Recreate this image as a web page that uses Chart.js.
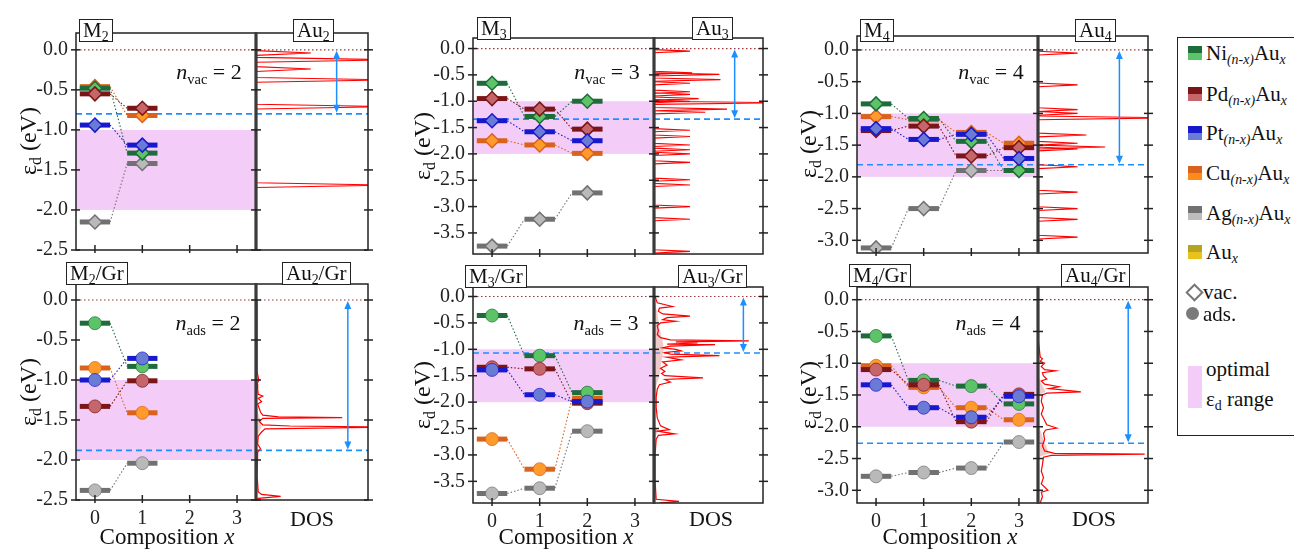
<!DOCTYPE html>
<html><head><meta charset="utf-8">
<script src="https://cdn.jsdelivr.net/npm/chart.js@4.4.1/dist/chart.umd.min.js"></script>
<style>
html,body{margin:0;padding:0;background:#fff;}
body{width:1294px;height:552px;position:relative;overflow:hidden;font-family:'Liberation Serif','Times New Roman',serif;color:#111;}
canvas{position:absolute;}
.t{position:absolute;white-space:nowrap;transform:translate(-50%,-50%);line-height:1;}
.rot{transform:translate(-50%,-50%) rotate(-90deg);}
.box{position:absolute;background:#fff;border:1.3px solid #222;font-size:21px;line-height:21px;height:21px;padding:0 3px;white-space:nowrap;z-index:5;}
.lt{position:absolute;white-space:nowrap;transform:translateY(-50%);font-size:21px;line-height:1;}
sub{font-size:0.66em;vertical-align:-0.32em;line-height:0;}
.sw{position:absolute;width:14px;height:14px;}
.sw div{height:7px;}
</style></head><body>
<script>
// ================= DATA =================
const compositionTicks = [0, 1, 2, 3];
const yTicks25 = [0.0, -0.5, -1.0, -1.5, -2.0, -2.5];
const yTicks30 = [0.0, -0.5, -1.0, -1.5, -2.0, -2.5, -3.0];
const yTicks35 = [0.0, -0.5, -1.0, -1.5, -2.0, -2.5, -3.0, -3.5];
const optimalRange = [-2.0, -1.0];
const fermiLevel = 0.0;

// d-band centre of pure Au clusters (blue dashed line): Au2, Au3, Au4, Au2/Gr, Au3/Gr, Au4/Gr
const auDBand = [-0.80, -1.34, -1.81, -1.88, -1.07, -2.26];

// M2 (vacuum)  values at x = 0,1
const m2Ni = [-0.48, -1.29];
const m2Pd = [-0.55, -0.73];
const m2Pt = [-0.94, -1.19];
const m2Cu = [-0.46, -0.82];
const m2Ag = [-2.15, -1.42];
// M3 (vacuum)  x = 0,1,2
const m3Ni = [-0.66, -1.29, -1.00];
const m3Pd = [-0.95, -1.15, -1.53];
const m3Pt = [-1.37, -1.58, -1.75];
const m3Cu = [-1.75, -1.83, -1.99];
const m3Ag = [-3.75, -3.24, -2.74];
// M4 (vacuum)  x = 0,1,2,3
const m4Ni = [-0.85, -1.08, -1.44, -1.90];
const m4Pd = [-1.27, -1.20, -1.67, -1.54];
const m4Pt = [-1.24, -1.41, -1.33, -1.71];
const m4Cu = [-1.05, -1.10, -1.30, -1.47];
const m4Ag = [-3.12, -2.50, -1.90, -1.90];
// M2/Gr (adsorbed)
const m2GrNi = [-0.29, -0.83];
const m2GrPd = [-1.33, -1.01];
const m2GrPt = [-1.00, -0.73];
const m2GrCu = [-0.85, -1.41];
const m2GrAg = [-2.38, -2.04];
// M3/Gr
const m3GrNi = [-0.36, -1.12, -1.82];
const m3GrPd = [-1.34, -1.37, -2.02];
const m3GrPt = [-1.39, -1.86, -1.99];
const m3GrCu = [-2.70, -3.27, -1.93];
const m3GrAg = [-3.73, -3.63, -2.55];
// M4/Gr
const m4GrNi = [-0.57, -1.27, -1.36, -1.64];
const m4GrPd = [-1.10, -1.34, -1.92, -1.49];
const m4GrPt = [-1.34, -1.70, -1.85, -1.52];
const m4GrCu = [-1.04, -1.38, -1.70, -1.89];
const m4GrAg = [-2.78, -2.72, -2.65, -2.24];

// DOS of free Au clusters: peak energies (eV) and relative heights
const au2PeakE = [-0.04, -0.125, -0.24, -0.375, -0.71, -1.69];
const au2PeakH = [0.49, 1.2, 0.49, 1.2, 1.2, 1.2];
const au3PeakE = [-0.05, -0.46, -0.49, -0.59, -0.66, -0.82, -0.87, -0.95, -1.00, -1.03, -1.15, -1.21, -1.55, -1.67, -1.83, -1.92, -2.00, -2.16, -2.49, -2.59, -3.00, -3.24, -3.85];
const au3PeakH = [0.33, 0.35, 0.60, 0.61, 0.33, 0.33, 0.33, 0.41, 0.33, 1.2, 0.67, 0.47, 0.33, 0.33, 0.33, 0.33, 0.33, 0.33, 0.33, 0.33, 0.33, 0.33, 0.33];
const au4PeakE = [-0.05, -0.55, -0.94, -1.00, -1.07, -1.34, -1.47, -1.53, -1.56, -1.84, -2.24, -2.50, -2.67, -2.95];
const au4PeakH = [0.36, 0.36, 0.36, 0.36, 1.2, 0.44, 0.36, 0.61, 0.36, 0.36, 0.36, 0.36, 0.36, 0.36];

// DOS of Au clusters on graphene: [energy, dos]
const au2GrDos = [[0.0,0.01],[-0.9,0.01],[-1.0,0.025],[-1.05,0.01],[-1.12,0.015],[-1.18,0.02],[-1.2,0.06],[-1.23,0.02],[-1.27,0.05],[-1.3,0.015],[-1.36,0.03],[-1.4,0.04],[-1.44,0.06],[-1.46,0.2],[-1.47,0.77],[-1.48,0.06],[-1.52,0.03],[-1.56,0.06],[-1.575,0.3],[-1.59,1.2],[-1.61,0.08],[-1.65,0.05],[-1.7,0.02],[-1.8,0.015],[-1.86,0.04],[-1.9,0.015],[-2.2,0.01],[-2.4,0.02],[-2.43,0.05],[-2.455,0.22],[-2.48,0.02],[-2.5,0.01]];
const au2GrShade = [[-1.3,0],[-1.42,0.02],[-1.5,0.04],[-1.58,0.05],[-1.64,0.03],[-1.75,0]];
const au3GrDos = [[0.0,0.01],[-0.06,0.02],[-0.12,0.03],[-0.19,0.17],[-0.22,0.05],[-0.28,0.04],[-0.33,0.08],[-0.37,0.33],[-0.4,0.12],[-0.44,0.08],[-0.47,0.2],[-0.5,0.06],[-0.55,0.03],[-0.65,0.04],[-0.72,0.03],[-0.78,0.06],[-0.82,0.15],[-0.84,0.87],[-0.86,0.2],[-0.88,0.4],[-0.9,0.12],[-0.91,0.56],[-0.94,0.15],[-0.97,0.08],[-1.0,0.2],[-1.03,0.25],[-1.06,0.1],[-1.09,0.15],[-1.12,0.6],[-1.15,0.12],[-1.18,0.2],[-1.2,0.25],[-1.24,0.08],[-1.3,0.12],[-1.36,0.06],[-1.42,0.1],[-1.46,0.07],[-1.5,0.1],[-1.54,0.45],[-1.57,0.1],[-1.62,0.15],[-1.67,0.05],[-1.75,0.03],[-1.9,0.02],[-2.1,0.02],[-2.3,0.03],[-2.45,0.06],[-2.52,0.14],[-2.55,0.03],[-2.6,0.19],[-2.63,0.04],[-2.7,0.02],[-3.0,0.01],[-3.5,0.01],[-3.84,0.02],[-3.88,0.23],[-3.91,0.05]];
const au3GrShade = [[-0.05,0],[-0.3,0.03],[-0.6,0.05],[-0.85,0.08],[-1.0,0.09],[-1.2,0.07],[-1.5,0.05],[-1.7,0.02],[-1.9,0],[-2.4,0],[-2.55,0.04],[-2.7,0]];
const au4GrDos = [[-0.6,0.0],[-0.75,0.01],[-0.9,0.02],[-0.93,0.04],[-0.97,0.02],[-1.0,0.06],[-1.05,0.03],[-1.1,0.06],[-1.12,0.16],[-1.15,0.04],[-1.2,0.05],[-1.25,0.08],[-1.28,0.03],[-1.33,0.06],[-1.37,0.19],[-1.4,0.1],[-1.42,0.22],[-1.45,0.39],[-1.47,0.08],[-1.5,0.04],[-1.6,0.03],[-1.7,0.05],[-1.8,0.03],[-1.9,0.06],[-1.97,0.08],[-2.02,0.17],[-2.05,0.07],[-2.1,0.05],[-2.2,0.06],[-2.3,0.04],[-2.38,0.06],[-2.42,0.15],[-2.43,0.97],[-2.45,0.12],[-2.48,0.05],[-2.6,0.04],[-2.7,0.03],[-2.8,0.05],[-2.9,0.03],[-3.0,0.09],[-3.03,0.03],[-3.1,0.04],[-3.2,0.02]];
const au4GrShade = [[-1.2,0],[-1.35,0.04],[-1.45,0.07],[-1.5,0.01],[-1.95,0],[-2.2,0.05],[-2.42,0.1],[-2.47,0.02],[-2.6,0]];

// ================= STYLE =================
const FONT = "'Liberation Serif','Times New Roman',serif";
Chart.defaults.font.family = FONT;
Chart.defaults.color = '#222';
const STY = {
  Ni:{dark:'#1e6b3b', light:'#5cc466'},
  Pd:{dark:'#7b1518', light:'#c4666a'},
  Pt:{dark:'#1818cc', light:'#6a7bd6'},
  Cu:{dark:'#d9621c', light:'#ff9a2c'},
  Ag:{dark:'#717171', light:'#b9b9b9'}
};
const DRAW_ORDER = ['Pt','Pd','Ni','Cu','Ag'];
const PINK = 'rgb(243,205,248)', BLUE = '#1e8fff', BROWN = '#9a3a3a', RED = '#ff0000', SHADE = 'rgba(215,140,140,0.45)';
const BAR_HALF = 0.32, SPIKE_HW = 0.03;
const X_MIN = -0.4, X_MAX = 3.4;

const panels = [
  {L:76, R:256, DR:368, T:33, B:250, ymin:-2.5, ymax:0.21, yt:yTicks25, s:{Ni:m2Ni,Pd:m2Pd,Pt:m2Pt,Cu:m2Cu,Ag:m2Ag}, marker:'vac', level:auDBand[0], arrowX:0.72, dos:{spikes:[au2PeakE,au2PeakH]}, bottom:false},
  {L:473, R:654, DR:763, T:38, B:254, ymin:-3.9, ymax:0.2, yt:yTicks35, s:{Ni:m3Ni,Pd:m3Pd,Pt:m3Pt,Cu:m3Cu,Ag:m3Ag}, marker:'vac', level:auDBand[1], arrowX:0.74, dos:{spikes:[au3PeakE,au3PeakH]}, bottom:false},
  {L:857, R:1038, DR:1148, T:36, B:253, ymin:-3.2, ymax:0.22, yt:yTicks30, s:{Ni:m4Ni,Pd:m4Pd,Pt:m4Pt,Cu:m4Cu,Ag:m4Ag}, marker:'vac', level:auDBand[2], arrowX:0.74, dos:{spikes:[au4PeakE,au4PeakH]}, bottom:false},
  {L:76, R:256, DR:368, T:284, B:500, ymin:-2.5, ymax:0.2, yt:yTicks25, s:{Ni:m2GrNi,Pd:m2GrPd,Pt:m2GrPt,Cu:m2GrCu,Ag:m2GrAg}, marker:'ads', level:auDBand[3], arrowX:0.82, dos:{curve:au2GrDos, shade:au2GrShade}, bottom:true},
  {L:473, R:654, DR:763, T:287, B:503, ymin:-3.91, ymax:0.18, yt:yTicks35, s:{Ni:m3GrNi,Pd:m3GrPd,Pt:m3GrPt,Cu:m3GrCu,Ag:m3GrAg}, marker:'ads', level:auDBand[4], arrowX:0.82, dos:{curve:au3GrDos, shade:au3GrShade}, bottom:true},
  {L:857, R:1038, DR:1148, T:287, B:503, ymin:-3.2, ymax:0.2, yt:yTicks30, s:{Ni:m4GrNi,Pd:m4GrPd,Pt:m4GrPt,Cu:m4GrCu,Ag:m4GrAg}, marker:'ads', level:auDBand[5], arrowX:0.82, dos:{curve:au4GrDos, shade:au4GrShade}, bottom:true}
];

function hline(ctx, x1, x2, y, color, dash, w){
  ctx.save(); ctx.strokeStyle=color; ctx.lineWidth=w; ctx.setLineDash(dash);
  ctx.beginPath(); ctx.moveTo(x1,y); ctx.lineTo(x2,y); ctx.stroke(); ctx.restore();
}
function tick(ctx, x1, y1, x2, y2){ ctx.beginPath(); ctx.moveTo(x1,y1); ctx.lineTo(x2,y2); ctx.stroke(); }
function noPad(s){ s.paddingTop = 0; s.paddingBottom = 0; s.paddingLeft = 0; s.paddingRight = 0; }

function seriesDataset(values, st, marker){
  const pts = [];
  values.forEach((v,i)=>{ pts.push({x:i-BAR_HALF,y:v},{x:i,y:v},{x:i+BAR_HALF,y:v}); });
  const vac = marker === 'vac';
  return {
    data: pts, borderColor: st.dark, borderWidth: 5, borderCapStyle:'butt', tension:0, fill:false,
    segment:{
      borderWidth: c => (c.p0DataIndex % 3 === 2) ? 1.1 : 5,
      borderDash: c => (c.p0DataIndex % 3 === 2) ? [1.5, 2] : undefined
    },
    pointRadius: c => (c.dataIndex % 3 === 1) ? (vac ? 7 : 6.5) : 0,
    pointStyle: vac ? 'rectRot' : 'circle',
    pointBackgroundColor: st.light,
    pointBorderColor: st.dark,
    pointBorderWidth: vac ? 1.5 : 0.7
  };
}

function makeCanvas(left, top, w, h){
  const cv = document.createElement('canvas');
  cv.width = w; cv.height = h; cv.style.left = left+'px'; cv.style.top = top+'px';
  cv.style.width = w+'px'; cv.style.height = h+'px';
  document.body.appendChild(cv);
  return cv;
}

function mainChart(p, idx){
  const YW = 60, PT = 4, PR = 4, PB = p.bottom ? 0 : 7, XH = p.bottom ? 34 : 0;
  const w = (p.R - p.L) + YW + PR, h = (p.B - p.T) + PT + PB + XH;
  const cv = makeCanvas(p.L - YW, p.T - PT, w, h);
  const datasets = DRAW_ORDER.map(k => seriesDataset(p.s[k], STY[k], p.marker));
  new Chart(cv, {
    type:'line',
    data:{datasets},
    options:{
      responsive:false, animation:false, events:[], devicePixelRatio:1,
      layout:{padding:{left:0,right:PR,top:PT,bottom:PB}},
      plugins:{legend:{display:false}, tooltip:{enabled:false}},
      scales:{
        x:{type:'linear', min:X_MIN, max:X_MAX, display:p.bottom,
           grid:{display:false, drawTicks:false}, border:{display:false},
           ticks:{font:{size:20}, color:'#222', padding:7, autoSkip:false, maxRotation:0, callback:v=>String(v)},
           afterBuildTicks:s=>{ s.ticks = compositionTicks.map(v=>({value:v})); },
           afterFit:s=>{ s.height = XH; noPad(s); }},
        y:{type:'linear', min:p.ymin, max:p.ymax,
           grid:{display:false, drawTicks:false}, border:{display:false},
           ticks:{font:{size:20}, color:'#222', padding:8, autoSkip:false, callback:v=>v.toFixed(1)},
           afterBuildTicks:s=>{ s.ticks = p.yt.map(v=>({value:v})); },
           afterFit:s=>{ s.width = YW; noPad(s); }}
      }
    },
    plugins:[{
      id:'mainDecor'+idx,
      beforeDatasetsDraw(chart){
        const {ctx, chartArea:a, scales:{y}} = chart;
        const y1 = y.getPixelForValue(optimalRange[1]), y2 = y.getPixelForValue(optimalRange[0]);
        ctx.save(); ctx.fillStyle = PINK; ctx.fillRect(a.left, y1, a.right-a.left, y2-y1); ctx.restore();
        hline(ctx, a.left, a.right, y.getPixelForValue(fermiLevel), BROWN, [1.5,2.5], 1.2);
        hline(ctx, a.left, a.right, y.getPixelForValue(p.level), BLUE, [6,4], 1.6);
      },
      afterDraw(chart){
        const {ctx, chartArea:a, scales:{x,y}} = chart;
        ctx.save(); ctx.strokeStyle='#222'; ctx.lineWidth=1.5;
        ctx.strokeRect(a.left, a.top, a.right-a.left, a.bottom-a.top);
        ctx.lineWidth=1.5;
        p.yt.forEach(v=>{ const py=y.getPixelForValue(v); tick(ctx, a.left-5, py, a.left+4, py); });
        compositionTicks.forEach(v=>{ const px=x.getPixelForValue(v); tick(ctx, px, a.bottom+3, px, a.bottom-5); });
        ctx.restore();
      }
    }]
  });
}

function dosChart(p, idx){
  const PL = 8, PR = 8, PT = 4, PB = 7;
  const w = (p.DR - p.R) + PL + PR, h = (p.B - p.T) + PT + PB;
  const cv = makeCanvas(p.R - PL, p.T - PT, w, h);
  const datasets = [];
  if (p.dos.spikes){
    const [E,H] = p.dos.spikes, pts = [];
    E.forEach((e,i)=>{ pts.push({x:0,y:e+SPIKE_HW},{x:H[i],y:e},{x:0,y:e-SPIKE_HW}); });
    datasets.push({data:pts, borderColor:RED, borderWidth:1.1, pointRadius:0, fill:false, tension:0});
  } else {
    datasets.push({data:p.dos.curve.map(([e,d])=>({x:d,y:e})), borderColor:RED, borderWidth:1.2, pointRadius:0, fill:false, tension:0});
    datasets.push({data:p.dos.shade.map(([e,d])=>({x:d,y:e})), borderColor:'rgba(0,0,0,0)', borderWidth:0, backgroundColor:SHADE, pointRadius:0, fill:'origin', tension:0});
  }
  new Chart(cv, {
    type:'line',
    data:{datasets},
    options:{
      responsive:false, animation:false, events:[], devicePixelRatio:1, indexAxis:'y',
      layout:{padding:{left:PL,right:PR,top:PT,bottom:PB}},
      plugins:{legend:{display:false}, tooltip:{enabled:false}},
      scales:{
        x:{type:'linear', min:0, max:1, display:false},
        y:{type:'linear', min:p.ymin, max:p.ymax, display:false}
      }
    },
    plugins:[{
      id:'dosDecor'+idx,
      beforeDatasetsDraw(chart){
        const {ctx, chartArea:a, scales:{y}} = chart;
        hline(ctx, a.left, a.right, y.getPixelForValue(fermiLevel), BROWN, [1.5,2.5], 1.2);
        hline(ctx, a.left, a.right, y.getPixelForValue(p.level), BLUE, [6,4], 1.6);
      },
      afterDatasetsDraw(chart){
        const {ctx, scales:{x,y}} = chart;
        const px = x.getPixelForValue(p.arrowX), y0 = y.getPixelForValue(fermiLevel), y1 = y.getPixelForValue(p.level);
        ctx.save(); ctx.strokeStyle=BLUE; ctx.fillStyle=BLUE; ctx.lineWidth=1.5;
        tick(ctx, px, y0+6, px, y1-6);
        ctx.beginPath(); ctx.moveTo(px, y0+1); ctx.lineTo(px-3.5, y0+9); ctx.lineTo(px+3.5, y0+9); ctx.closePath(); ctx.fill();
        ctx.beginPath(); ctx.moveTo(px, y1-1); ctx.lineTo(px-3.5, y1-9); ctx.lineTo(px+3.5, y1-9); ctx.closePath(); ctx.fill();
        ctx.restore();
      },
      afterDraw(chart){
        const {ctx, chartArea:a, scales:{y}} = chart;
        ctx.save(); ctx.strokeStyle='#222'; ctx.lineWidth=1.5;
        ctx.strokeRect(a.left, a.top, a.right-a.left, a.bottom-a.top);
        ctx.strokeStyle='#3a3a3a'; ctx.lineWidth=3.2;
        tick(ctx, a.left, a.top-0.7, a.left, a.bottom+0.7);
        ctx.strokeStyle='#222'; ctx.lineWidth=1.5;
        p.yt.forEach(v=>{ const py=y.getPixelForValue(v);
          tick(ctx, a.left-5, py, a.left+5, py);
          tick(ctx, a.right-4, py, a.right+5, py); });
        ctx.restore();
      }
    }]
  });
}

panels.forEach((p,i)=>{ mainChart(p,i); dosChart(p,i); });

// ================= TEXT =================
function add(html, cls, style){ const d=document.createElement('div'); d.className=cls; d.innerHTML=html; d.style.cssText=style; document.body.appendChild(d); return d; }
const boxes = [
  ['M<sub>2</sub>',79,19],['Au<sub>2</sub>',293,19],['M<sub>3</sub>',477,17],['Au<sub>3</sub>',692,17],['M<sub>4</sub>',860,19],['Au<sub>4</sub>',1075,19],
  ['M<sub>2</sub>/Gr',66,262],['Au<sub>2</sub>/Gr',282,262],['M<sub>3</sub>/Gr',465,265],['Au<sub>3</sub>/Gr',678,265],['M<sub>4</sub>/Gr',849,264],['Au<sub>4</sub>/Gr',1061,264]
];
boxes.forEach(([h,l,t])=>add(h,'box',`left:${l}px;top:${t}px;`));
const nLabels = [
  ['<i>n</i><sub>vac</sub> = 2',209,72],['<i>n</i><sub>vac</sub> = 3',607,72],['<i>n</i><sub>vac</sub> = 4',991,72],
  ['<i>n</i><sub>ads</sub> = 2',208,323],['<i>n</i><sub>ads</sub> = 3',606,323],['<i>n</i><sub>ads</sub> = 4',988,323]
];
nLabels.forEach(([h,x,y])=>add(h,'t',`left:${x}px;top:${y}px;font-size:22px;`));
[[28,141],[422,146],[808,144],[28,392],[422,395],[808,395]].forEach(([x,y])=>add('ε<sub>d</sub> (eV)','t rot',`left:${x}px;top:${y}px;font-size:24px;`));
[[167,536],[566,536],[950,536]].forEach(([x,y])=>add('Composition <i>x</i>','t',`left:${x}px;top:${y}px;font-size:23px;`));
[[312,519],[711,519],[1094,519]].forEach(([x,y])=>add('DOS','t',`left:${x}px;top:${y}px;font-size:22px;`));

// ================= LEGEND =================
add('','',`position:absolute;left:1177px;top:37px;width:130px;height:397px;border:1.5px solid #222;background:#fff;`);
const legendItems = [
  ['Ni<sub><i>(n-x)</i></sub>Au<sub><i>x</i></sub>', '#1e6b3b', '#5cc466', 53],
  ['Pd<sub><i>(n-x)</i></sub>Au<sub><i>x</i></sub>', '#7b1518', '#c4666a', 94],
  ['Pt<sub><i>(n-x)</i></sub>Au<sub><i>x</i></sub>', '#1818cc', '#6a7bd6', 133],
  ['Cu<sub><i>(n-x)</i></sub>Au<sub><i>x</i></sub>', '#d9621c', '#ff8a1c', 173],
  ['Ag<sub><i>(n-x)</i></sub>Au<sub><i>x</i></sub>', '#717171', '#bdbdbd', 213],
  ['Au<sub><i>x</i></sub>', '#b5a322', '#e9c21c', 252]
];
legendItems.forEach(([h,d,l,y])=>{
  add(`<div style="background:${d}"></div><div style="background:${l}"></div>`,'sw',`left:1188px;top:${y-7}px;`);
  add(h,'lt',`left:1206px;top:${y}px;`);
});
add('','',`position:absolute;left:1188px;top:286px;width:9px;height:9px;border:2px solid #777;background:#fff;transform:rotate(45deg);`);
add('vac.','lt',`left:1203px;top:292px;`);
add('','',`position:absolute;left:1186px;top:307px;width:13px;height:13px;border-radius:50%;background:#7a7a7a;`);
add('ads.','lt',`left:1203px;top:314px;`);
add('','',`position:absolute;left:1188px;top:366px;width:14px;height:42px;background:${PINK};`);
add('optimal','lt',`left:1206px;top:369px;`);
add('ε<sub>d</sub> range','lt',`left:1206px;top:399px;`);
</script>
</body></html>
